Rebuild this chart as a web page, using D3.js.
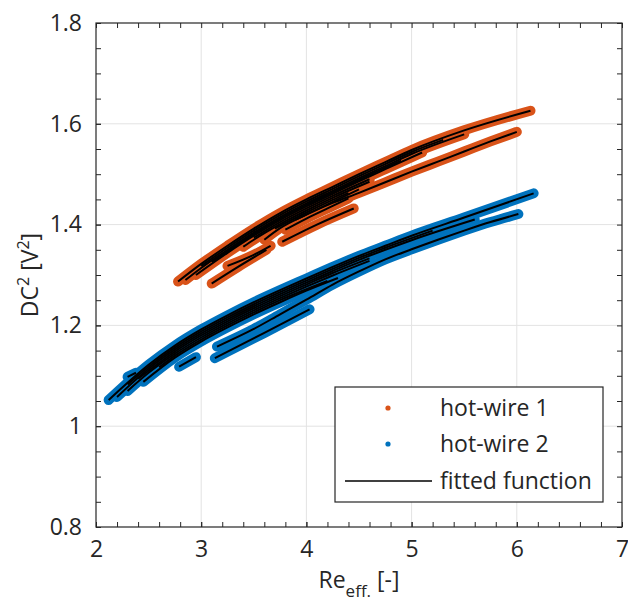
<!DOCTYPE html>
<html><head><meta charset="utf-8">
<script src="https://cdn.jsdelivr.net/npm/d3@7/dist/d3.min.js"></script>
<style>
body{margin:0;background:#fff}
text{font-family:"Open Sans",sans-serif;fill:#262626}
</style>
</head><body>
<svg id="c" width="628" height="610"></svg>
<script>
// ---------- data ----------
const xTicks = [2, 3, 4, 5, 6, 7];
const xTickLabels = ["2", "3", "4", "5", "6", "7"];
const yTicks = [0.8, 1.0, 1.2, 1.4, 1.6, 1.8];
const yTickLabels = ["0.8", "1", "1.2", "1.4", "1.6", "1.8"];
const seriesNames = ["hot-wire 1", "hot-wire 2", "fitted function"];

// hot-wire 1 runs: [Re_eff, DC^2]
const hw1_run1  = [[2.78,1.287],[3.0,1.322],[3.25,1.358],[3.5,1.392],[3.75,1.423],[4.0,1.45],[4.25,1.475],[4.5,1.5],[4.75,1.524],[5.0,1.548],[5.5,1.587],[6.13,1.626]];
const hw1_run2  = [[2.85,1.29],[3.0,1.314],[3.25,1.35],[3.5,1.384],[3.75,1.415],[4.0,1.442],[4.25,1.467],[4.5,1.492],[4.75,1.516],[5.0,1.54],[5.5,1.579]];
const hw1_run3  = [[2.95,1.3],[3.25,1.344],[3.5,1.378],[3.75,1.409],[4.0,1.436],[4.25,1.461],[4.5,1.486],[4.75,1.51],[5.1,1.543]];
const hw1_run4  = [[3.4,1.356],[3.5,1.37],[3.75,1.401],[4.0,1.428],[4.25,1.453],[4.6,1.485]];
const hw1_run5  = [[3.6,1.37],[3.75,1.393],[4.0,1.42],[4.25,1.445],[4.5,1.47]];
const hw1_run6  = [[3.8,1.39],[4.0,1.412],[4.25,1.437],[4.4,1.452]];
const hw1_run7  = [[3.9,1.41],[4.25,1.443],[4.5,1.463],[4.75,1.484],[5.0,1.505],[5.25,1.525],[5.5,1.545],[5.75,1.565],[6.0,1.584]];
const hw1_run8  = [[3.77,1.366],[4.1,1.40],[4.45,1.432]];
const hw1_run9  = [[3.1,1.283],[3.35,1.316],[3.62,1.35]];
const hw1_run10 = [[3.25,1.318],[3.5,1.34],[3.66,1.358]];
const hw1_run11 = [[3.0,1.318],[3.25,1.354],[3.5,1.388],[3.75,1.419],[4.0,1.446],[4.25,1.471],[4.5,1.496],[4.75,1.52],[5.0,1.544],[5.3,1.568]];
const hw1_run12 = [[3.1,1.326],[3.25,1.347],[3.5,1.381],[3.75,1.412],[4.0,1.439],[4.25,1.464],[4.5,1.489],[4.9,1.527]];
const hw1_run13 = [[3.5,1.374],[3.75,1.405],[4.0,1.432],[4.25,1.457],[4.6,1.49]];
const hw1_run14 = [[3.7,1.392],[4.0,1.424],[4.25,1.449],[4.4,1.463]];

// hot-wire 2 runs
const hw2_run1  = [[2.12,1.052],[2.25,1.077],[2.5,1.122],[2.75,1.16],[3.0,1.192],[3.25,1.22],[3.5,1.246],[3.75,1.27],[4.0,1.293],[4.25,1.316],[4.5,1.338],[4.75,1.358],[5.0,1.378],[5.5,1.414],[6.16,1.462]];
const hw2_run2  = [[2.2,1.058],[2.5,1.114],[2.75,1.152],[3.0,1.184],[3.25,1.212],[3.5,1.238],[3.75,1.262],[4.0,1.285],[4.25,1.308],[4.5,1.33],[4.75,1.35],[5.0,1.369],[5.6,1.41]];
const hw2_run3  = [[2.3,1.07],[2.5,1.106],[2.75,1.144],[3.0,1.176],[3.25,1.204],[3.5,1.23],[3.75,1.254],[4.0,1.277],[4.25,1.299],[4.6,1.328]];
const hw2_run4  = [[2.45,1.088],[2.75,1.136],[3.0,1.168],[3.25,1.196],[3.5,1.222],[3.75,1.246],[4.0,1.269],[4.3,1.294]];
const hw2_run5  = [[3.15,1.158],[3.5,1.193],[3.75,1.222],[4.0,1.251],[4.25,1.281],[4.5,1.307],[4.75,1.331],[5.0,1.351],[5.25,1.37],[5.5,1.388],[5.75,1.405],[6.015,1.421]];
const hw2_run6  = [[3.13,1.135],[3.6,1.185],[4.03,1.232]];
const hw2_run7  = [[2.79,1.118],[2.95,1.137]];
const hw2_run8  = [[2.3,1.098],[2.38,1.106]];
const hw2_run9  = [[2.3,1.083],[2.5,1.118],[2.75,1.156],[3.0,1.188],[3.25,1.216],[3.5,1.242],[3.75,1.266],[4.0,1.289],[4.25,1.312],[4.5,1.334],[4.75,1.354],[5.2,1.388]];
const hw2_run10 = [[2.4,1.094],[2.5,1.11],[2.75,1.148],[3.0,1.18],[3.25,1.208],[3.5,1.234],[3.75,1.258],[4.0,1.281],[4.25,1.304],[4.6,1.333]];
const hw2_run11 = [[2.6,1.117],[2.75,1.14],[3.0,1.172],[3.25,1.2],[3.5,1.226],[3.75,1.25],[4.2,1.288]];

const hw1Runs = [hw1_run1,hw1_run2,hw1_run3,hw1_run4,hw1_run5,hw1_run6,hw1_run7,hw1_run8,hw1_run9,hw1_run10,hw1_run11,hw1_run12,hw1_run13,hw1_run14];
const hw2Runs = [hw2_run1,hw2_run2,hw2_run3,hw2_run4,hw2_run5,hw2_run6,hw2_run7,hw2_run8,hw2_run9,hw2_run10,hw2_run11];

// ---------- layout ----------
const L = 96, R = 622, T = 23, B = 527;
const C1 = "#D95319", C2 = "#0072BD", INK = "#262626";

const svg = d3.select("#c");
const x = d3.scaleLinear().domain([2, 7]).range([L, R]);
const y = d3.scaleLinear().domain([0.8, 1.8]).range([B, T]);

// grid
const grid = svg.append("g");
grid.selectAll("line.gx").data(xTicks.slice(1, -1)).join("line")
  .attr("x1", d => x(d)).attr("x2", d => x(d)).attr("y1", T).attr("y2", B)
  .attr("stroke", "#e3e3e3").attr("stroke-width", 1);
grid.selectAll("line.gy").data(yTicks.slice(1, -1)).join("line")
  .attr("y1", d => y(d)).attr("y2", d => y(d)).attr("x1", L).attr("x2", R)
  .attr("stroke", "#e3e3e3").attr("stroke-width", 1);

// data
const line = d3.line().x(d => x(d[0])).y(d => y(d[1])).curve(d3.curveMonotoneX);
const data = svg.append("g");
data.selectAll("path.hw1").data(hw1Runs).join("path")
  .attr("d", line).attr("fill", "none").attr("stroke", C1)
  .attr("stroke-width", 10).attr("stroke-linecap", "round").attr("stroke-linejoin", "round");
data.selectAll("path.hw2").data(hw2Runs).join("path")
  .attr("d", line).attr("fill", "none").attr("stroke", C2)
  .attr("stroke-width", 10).attr("stroke-linecap", "round").attr("stroke-linejoin", "round");
data.selectAll("path.fit").data(hw1Runs.concat(hw2Runs)).join("path")
  .attr("d", line).attr("fill", "none").attr("stroke", "#000").attr("stroke-width", 2);

// axes
const xMinor = d3.range(2, 7.001, 0.2);
const yMinor = d3.range(0.8, 1.8001, 0.05);
function styleAxis(g){
  g.select(".domain").attr("stroke", "none");
  g.selectAll(".tick line").attr("stroke", INK).attr("stroke-width", 1);
  g.selectAll(".tick text").attr("fill", INK).style("font-size", "23px").style("font-family", '"Open Sans",sans-serif');
}
svg.append("g").attr("transform", `translate(0,${B})`)
  .call(d3.axisBottom(x).tickValues(xMinor).tickSize(-5).tickFormat(""))
  .call(styleAxis);
svg.append("g").attr("transform", `translate(0,${B})`)
  .call(d3.axisBottom(x).tickValues(xTicks).tickSize(-5).tickPadding(14).tickFormat((d,i) => xTickLabels[i]))
  .call(styleAxis);
svg.append("g").attr("transform", `translate(0,${T})`)
  .call(d3.axisTop(x).tickValues(xMinor).tickSize(-5).tickFormat(""))
  .call(styleAxis);
svg.append("g").attr("transform", `translate(${L},0)`)
  .call(d3.axisLeft(y).tickValues(yMinor).tickSize(-5).tickFormat(""))
  .call(styleAxis);
svg.append("g").attr("transform", `translate(${L},0)`)
  .call(d3.axisLeft(y).tickValues(yTicks).tickSize(-5).tickPadding(14).tickFormat((d,i) => yTickLabels[i]))
  .call(styleAxis);
svg.append("g").attr("transform", `translate(${R},0)`)
  .call(d3.axisRight(y).tickValues(yMinor).tickSize(-5).tickFormat(""))
  .call(styleAxis);

// box
svg.append("rect").attr("x", L).attr("y", T).attr("width", R - L).attr("height", B - T)
  .attr("fill", "none").attr("stroke", INK).attr("stroke-width", 1.2);

// axis labels
const xl = svg.append("text").attr("x", (L + R) / 2).attr("y", 588)
  .attr("text-anchor", "middle").style("font-size", "23px");
xl.append("tspan").text("Re");
xl.append("tspan").attr("dy", 9).style("font-size", "17px").text("eff.");
xl.append("tspan").attr("dy", -9).text(" [-]");

const yl = svg.append("text").attr("transform", `translate(38,${(T + B) / 2}) rotate(-90)`)
  .attr("text-anchor", "middle").style("font-size", "23px");
yl.append("tspan").text("DC");
yl.append("tspan").attr("dy", -9).style("font-size", "16px").text("2");
yl.append("tspan").attr("dy", 9).text(" [V");
yl.append("tspan").attr("dy", -9).style("font-size", "16px").text("2");
yl.append("tspan").attr("dy", 9).text("]");

// legend
const lg = svg.append("g");
lg.append("rect").attr("x", 335).attr("y", 387).attr("width", 268).attr("height", 115)
  .attr("fill", "#fff").attr("stroke", INK).attr("stroke-width", 1.2);
const rows = [408, 444, 481];
lg.append("circle").attr("cx", 388).attr("cy", rows[0]).attr("r", 2.6).attr("fill", C1);
lg.append("circle").attr("cx", 388).attr("cy", rows[1]).attr("r", 2.6).attr("fill", C2);
lg.append("line").attr("x1", 345).attr("x2", 432).attr("y1", rows[2]).attr("y2", rows[2])
  .attr("stroke", "#000").attr("stroke-width", 1.3);
lg.selectAll("text.lt").data(seriesNames).join("text")
  .attr("x", 440).attr("y", (d, i) => rows[i] + 8).style("font-size", "23px").text(d => d);
</script>
</body></html>
